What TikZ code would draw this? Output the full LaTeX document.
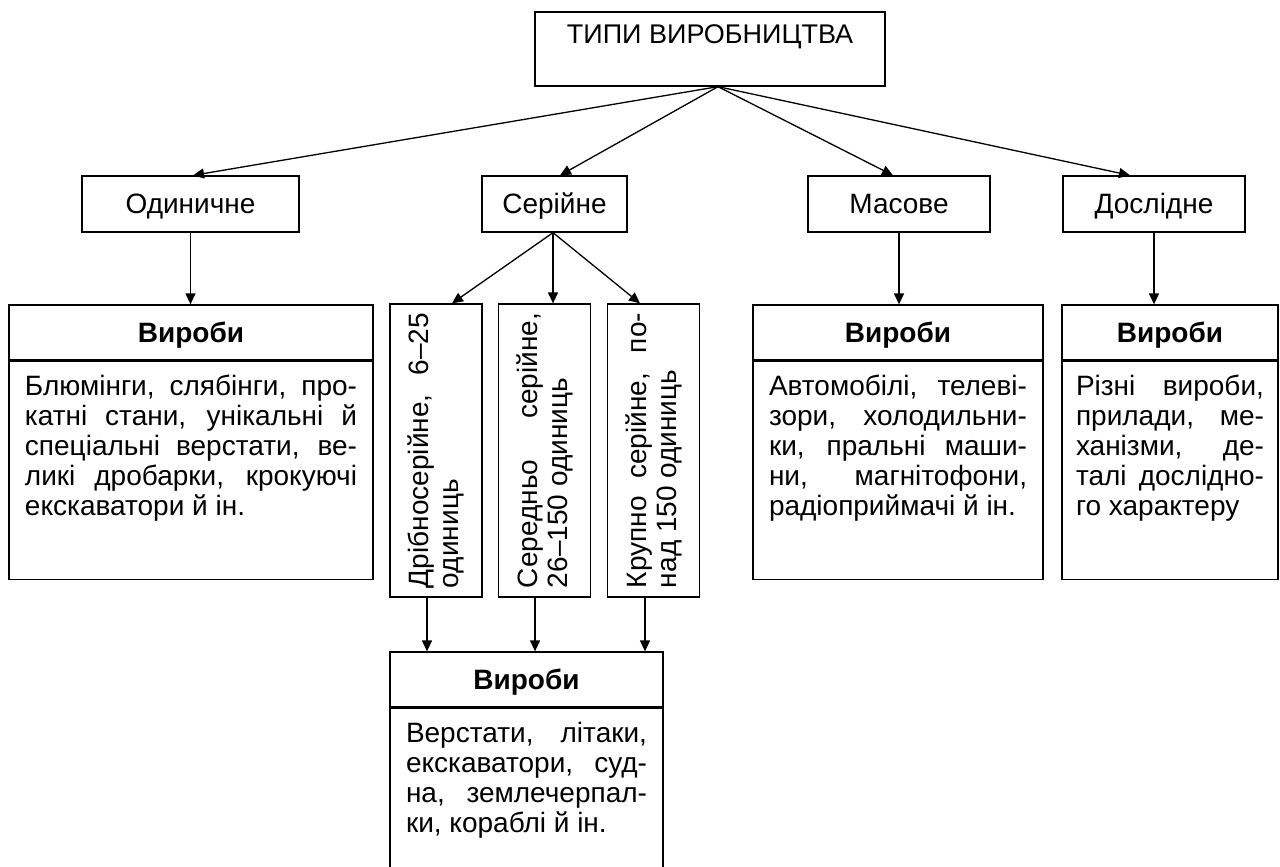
\documentclass[tikz,border=0pt]{standalone}
\usepackage{fontspec}
\setmainfont{Liberation Sans}
\usepackage{tikz}
\usetikzlibrary{arrows.meta,positioning}
\newcommand{\diagfont}{\fontsize{14}{15}\selectfont}
\tikzset{
  root/.style={draw, line width=0.65pt, minimum width=175pt, minimum height=37pt,
    align=center, font=\fontsize{13.5}{15}\selectfont},
  kind/.style={draw, line width=0.65pt, minimum height=28pt, text height=10pt, text depth=0.5pt,
    font=\diagfont},
  serbox/.style={draw, line width=0.65pt, rotate=90, minimum width=146.5pt, minimum height=46pt,
    text width=137.5pt, inner xsep=4.5pt, align=justify, font=\diagfont},
  prodhead/.style={draw, line width=0.65pt, minimum width=#1, minimum height=27.5pt,
    text height=10pt, text depth=0.5pt, inner sep=0pt, font=\diagfont\bfseries},
  prodtext/.style={draw, line width=0.65pt, text width=#1, inner xsep=8pt, inner ysep=7pt,
    align=justify, text depth=85pt, font=\diagfont},
  flow/.style={-{Triangle[length=5.5pt,width=5pt]}, line width=0.65pt},
}

\begin{document}
\begin{tikzpicture}[x=0.5pt, y=-0.5pt]
\useasboundingbox (0,0) rectangle (1280,867);
\node[root] (t0) at (710,49) {ТИПИ ВИРОБНИЦТВА\\\mbox{}};

\node[kind, minimum width=108.5pt] (k1) at (190.5,204) {Одиничне};
\node[kind, minimum width=72.5pt] (k2) at (554.5,204) {Серійне};
\node[kind, minimum width=91pt] (k3) at (899,204) {Масове};
\node[kind, minimum width=91pt] (k4) at (1154,204) {Дослідне};

\node[serbox] (d1) at (436,450.5) {Дрібносерійне, 6–25\linebreak одиниць};
\node[serbox] (d2) at (544.5,450.5) {Середньо серійне,\linebreak 26–150 одиниць};
\node[serbox] (d3) at (653.5,450.5) {Крупно серійне, по-\linebreak над 150 одиниць};

\node[prodhead=182pt] (h1) at (191,332.5) {Вироби};
\node[prodtext=166pt, below=0pt of h1] (b1) {Блюмінги, слябінги, про-\linebreak катні стани, унікальні й\linebreak спеціальні верстати, ве-\linebreak ликі дробарки, крокуючі\linebreak екскаватори й ін.};
\node[prodhead=145pt] (h2) at (898,332.5) {Вироби};
\node[prodtext=129pt, below=0pt of h2] (b2) {Автомобілі, телеві-\linebreak зори, холодильни-\linebreak ки, пральні маши-\linebreak ни, магнітофони,\linebreak радіоприймачі й ін.};
\node[prodhead=108pt] (h3) at (1170,332.5) {Вироби};
\node[prodtext=94pt, inner xsep=7pt, below=0pt of h3] (b3) {Різні вироби,\linebreak прилади, ме-\linebreak ханізми, де-\linebreak талі дослідно-\linebreak го характеру};
\node[prodhead=136.5pt] (h4) at (526.5,679.5) {Вироби};
\node[prodtext=120.5pt, text depth=70pt, below=0pt of h4] (b4) {Верстати, літаки,\linebreak екскаватори, суд-\linebreak на, землечерпал-\linebreak ки, кораблі й ін.};

\foreach \k/\s in {k1/1.25pt,k2/2.75pt,k3/-3pt,k4/-12pt} \draw[flow] ([xshift=4pt]t0.south) -- ([xshift=\s]\k.north);
\draw[flow] (k1.south) -- (k1.south |- h1.north);
\draw[flow] (k3.south) -- (k3.south |- h2.north);
\draw[flow] (k4.south) -- (k4.south |- h3.north);
\foreach \k/\s in {d1/8pt,d2/4.25pt,d3/-6.75pt} \draw[flow] ([xshift=-0.75pt]k2.south) -- ([xshift=\s]\k.east);
\foreach \k/\s in {d1/-4.5pt,d2/-4.75pt,d3/-4.25pt} {
  \coordinate (o\k) at ([xshift=\s]\k.west);
  \draw[flow] (o\k) -- (o\k |- h4.north);
}
\end{tikzpicture}
\end{document}
